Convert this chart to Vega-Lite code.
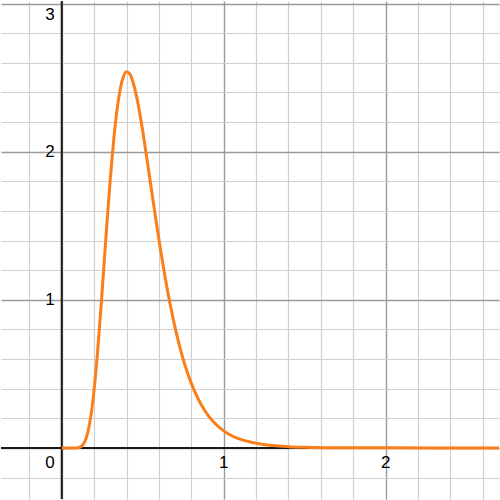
{
  "$schema": "https://vega.github.io/schema/vega-lite/v6.json",
  "width": 500,
  "height": 500,
  "autosize": {"type": "fit", "contains": "padding"},
  "padding": 0,
  "background": "white",
  "config": {"view": {"stroke": null}},
  "datasets": {
    "curve": [
      {"x": 0, "y": 0},
      {"x": 0.06, "y": 0},
      {"x": 0.08, "y": 0.0001},
      {"x": 0.1, "y": 0.0016},
      {"x": 0.12, "y": 0.0098},
      {"x": 0.14, "y": 0.037},
      {"x": 0.16, "y": 0.1},
      {"x": 0.18, "y": 0.216},
      {"x": 0.2, "y": 0.394},
      {"x": 0.22, "y": 0.631},
      {"x": 0.24, "y": 0.913},
      {"x": 0.26, "y": 1.221},
      {"x": 0.28, "y": 1.53},
      {"x": 0.3, "y": 1.818},
      {"x": 0.32, "y": 2.069},
      {"x": 0.34, "y": 2.27},
      {"x": 0.36, "y": 2.415},
      {"x": 0.38, "y": 2.504},
      {"x": 0.4, "y": 2.539},
      {"x": 0.42, "y": 2.525},
      {"x": 0.44, "y": 2.47},
      {"x": 0.46, "y": 2.383},
      {"x": 0.48, "y": 2.27},
      {"x": 0.5, "y": 2.139},
      {"x": 0.52, "y": 1.996},
      {"x": 0.55, "y": 1.773},
      {"x": 0.58, "y": 1.55},
      {"x": 0.61, "y": 1.338},
      {"x": 0.64, "y": 1.142},
      {"x": 0.67, "y": 0.966},
      {"x": 0.7, "y": 0.812},
      {"x": 0.74, "y": 0.637},
      {"x": 0.78, "y": 0.496},
      {"x": 0.82, "y": 0.383},
      {"x": 0.86, "y": 0.294},
      {"x": 0.9, "y": 0.225},
      {"x": 0.95, "y": 0.161},
      {"x": 1.0, "y": 0.115},
      {"x": 1.05, "y": 0.082},
      {"x": 1.1, "y": 0.059},
      {"x": 1.2, "y": 0.031},
      {"x": 1.3, "y": 0.016},
      {"x": 1.4, "y": 0.0085},
      {"x": 1.5, "y": 0.0045},
      {"x": 1.7, "y": 0.0012},
      {"x": 2.0, "y": 0.0002},
      {"x": 2.3, "y": 0},
      {"x": 2.7, "y": 0}
    ],
    "xlabels": [
      {"v": 1, "t": "1"},
      {"v": 2, "t": "2"}
    ],
    "ylabels": [
      {"v": 1, "t": "1"},
      {"v": 2, "t": "2"}
    ],
    "origin": [{"v": 0, "t": "0"}],
    "top": [{"v": 3, "t": "3"}]
  },
  "layer": [
    {
      "data": {"name": "curve"},
      "mark": {"type": "line", "opacity": 0},
      "encoding": {
        "x": {
          "field": "x", "type": "quantitative",
          "scale": {"domain": [-0.375, 2.7], "nice": false, "zero": false},
          "axis": {
            "title": null, "labels": false, "ticks": false, "domain": false,
            "tickCount": 100,
            "values": [-0.2, 0, 0.2, 0.4, 0.6, 0.8, 1, 1.2, 1.4, 1.6, 1.8, 2, 2.2, 2.4, 2.6],
            "gridColor": {"condition": {"test": "datum.value % 1 === 0", "value": "#9a9a9a"}, "value": "#d0d0d0"},
            "gridWidth": {"condition": {"test": "datum.value % 1 === 0", "value": 1.4}, "value": 1.2},
            "gridOpacity": 1
          }
        },
        "y": {
          "field": "y", "type": "quantitative",
          "scale": {"domain": [-0.345, 3.017], "nice": false, "zero": false},
          "axis": {
            "title": null, "labels": false, "ticks": false, "domain": false,
            "tickCount": 100,
            "values": [-0.2, 0, 0.2, 0.4, 0.6, 0.8, 1, 1.2, 1.4, 1.6, 1.8, 2, 2.2, 2.4, 2.6, 2.8, 3],
            "gridColor": {"condition": {"test": "datum.value % 1 === 0", "value": "#9a9a9a"}, "value": "#d0d0d0"},
            "gridWidth": {"condition": {"test": "datum.value % 1 === 0", "value": 1.4}, "value": 1.2},
            "gridOpacity": 1
          }
        }
      }
    },
    {
      "data": {"name": "origin"},
      "mark": {"type": "rule", "color": "#1a1a1a", "strokeWidth": 2},
      "encoding": {"x": {"field": "v", "type": "quantitative"}}
    },
    {
      "data": {"name": "origin"},
      "mark": {"type": "rule", "color": "#1a1a1a", "strokeWidth": 2},
      "encoding": {"y": {"field": "v", "type": "quantitative"}}
    },
    {
      "data": {"name": "curve"},
      "mark": {"type": "line", "color": "#fa7e19", "strokeWidth": 3, "interpolate": "monotone", "clip": true},
      "encoding": {
        "x": {"field": "x", "type": "quantitative"},
        "y": {"field": "y", "type": "quantitative"}
      }
    },
    {
      "data": {"name": "xlabels"},
      "mark": {"type": "text", "font": "Liberation Sans", "fontSize": 17, "color": "#000", "align": "center", "baseline": "top", "dy": 7},
      "encoding": {
        "x": {"field": "v", "type": "quantitative"},
        "y": {"datum": 0, "type": "quantitative"},
        "text": {"field": "t"}
      }
    },
    {
      "data": {"name": "ylabels"},
      "mark": {"type": "text", "font": "Liberation Sans", "fontSize": 17, "color": "#000", "align": "right", "baseline": "middle", "dx": -7},
      "encoding": {
        "x": {"datum": 0, "type": "quantitative"},
        "y": {"field": "v", "type": "quantitative"},
        "text": {"field": "t"}
      }
    },
    {
      "data": {"name": "origin"},
      "mark": {"type": "text", "font": "Liberation Sans", "fontSize": 17, "color": "#000", "align": "right", "baseline": "top", "dx": -7, "dy": 7},
      "encoding": {
        "x": {"field": "v", "type": "quantitative"},
        "y": {"field": "v", "type": "quantitative"},
        "text": {"field": "t"}
      }
    },
    {
      "data": {"name": "top"},
      "mark": {"type": "text", "font": "Liberation Sans", "fontSize": 17, "color": "#000", "align": "right", "baseline": "top", "dx": -7, "dy": 3},
      "encoding": {
        "x": {"datum": 0, "type": "quantitative"},
        "y": {"field": "v", "type": "quantitative"},
        "text": {"field": "t"}
      }
    }
  ]
}
